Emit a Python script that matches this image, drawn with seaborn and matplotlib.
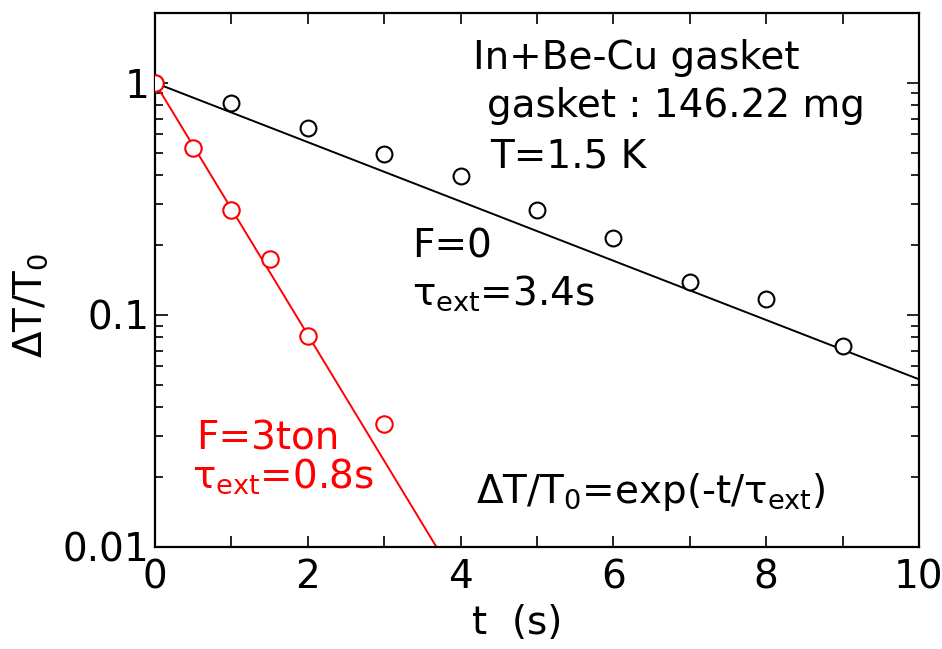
import numpy as np
import pandas as pd
import matplotlib
matplotlib.use("Agg")
import matplotlib.pyplot as plt
import seaborn as sns
from matplotlib.ticker import FixedLocator, FixedFormatter, MultipleLocator, LogLocator, NullFormatter

# Measured relaxation of the temperature step, normalised to T0
t_free = [0, 1, 2, 3, 4, 5, 6, 7, 8, 9]
dT_free = [1.0, 0.815, 0.637, 0.492, 0.398, 0.282, 0.214, 0.138, 0.117, 0.0736]

t_load = [0, 0.5, 1, 1.5, 2, 3]
dT_load = [1.0, 0.524, 0.282, 0.175, 0.0813, 0.034]

# Fitted external time constants (s)
tau_free = 3.4
tau_load = 0.8

y_ticks = [0.01, 0.1, 1]
y_tick_labels = ["0.01", "0.1", "1"]
x_ticks = [0, 2, 4, 6, 8, 10]

sns.set_style("ticks")
plt.rcParams["font.family"] = ["DejaVu Sans"]
plt.rcParams["mathtext.fontset"] = "custom"
plt.rcParams["mathtext.rm"] = "DejaVu Sans"
plt.rcParams["mathtext.it"] = "DejaVu Sans"
plt.rcParams["mathtext.bf"] = "DejaVu Sans"
plt.rcParams["text.color"] = "black"
plt.rcParams["axes.labelcolor"] = "black"

FS = 28
RED = "#ff0000"

fig = plt.figure(figsize=(9.42, 6.49), dpi=100)
ax = fig.add_axes([155 / 942, 1 - 547 / 649, 764 / 942, 534 / 649])

# Exponential fits  dT/T0 = exp(-t / tau)
t_fit = np.linspace(0, 10, 400)
fit_free = pd.DataFrame({"t": t_fit, "y": np.exp(-t_fit / tau_free)})
fit_load = pd.DataFrame({"t": t_fit, "y": np.exp(-t_fit / tau_load)})
fit_load = fit_load[fit_load["y"] >= 0.0099]

sns.lineplot(data=fit_free, x="t", y="y", ax=ax, color="black", lw=1.4, zorder=2)
sns.lineplot(data=fit_load, x="t", y="y", ax=ax, color=RED, lw=1.4, zorder=2)

free = pd.DataFrame({"t": t_free, "y": dT_free})
load = pd.DataFrame({"t": t_load, "y": dT_load})
sns.scatterplot(data=free, x="t", y="y", ax=ax, s=130, marker="o",
                facecolor="white", edgecolor="black", linewidth=1.5, zorder=3)
sns.scatterplot(data=load, x="t", y="y", ax=ax, s=140, marker="o",
                facecolor="white", edgecolor=RED, linewidth=1.5, zorder=4)

ax.set_yscale("log")
ax.set_xlim(0, 10)
ax.set_ylim(0.01, 2)

ax.xaxis.set_major_locator(FixedLocator(x_ticks))
ax.xaxis.set_minor_locator(MultipleLocator(1))
ax.yaxis.set_major_locator(FixedLocator(y_ticks))
ax.yaxis.set_major_formatter(FixedFormatter(y_tick_labels))
ax.yaxis.set_minor_locator(LogLocator(base=10, subs=np.arange(2, 10)))
ax.yaxis.set_minor_formatter(NullFormatter())

ax.tick_params(axis="both", which="both", direction="in", top=True, right=True,
               labelsize=FS, colors="black", width=1.2)
ax.tick_params(axis="x", which="both", length=8, pad=8)
ax.tick_params(axis="y", which="major", length=9, pad=4)
ax.tick_params(axis="y", which="minor", length=6)

for sp in ax.spines.values():
    sp.set_linewidth(1.6)
    sp.set_color("black")

ax.set_xlabel("t  (s)", fontsize=FS)
ax.set_ylabel(r"$\Delta$T/T$_0$", fontsize=FS)
ax.xaxis.set_label_coords((517 - 155) / 764, (547 - 604) / 534)
ax.yaxis.set_label_coords((50 - 155) / 764, (547 - 305) / 534)

tr = ax.transAxes


def put(px, py, s, size=FS, **kw):
    ax.text((px - 155) / 764, (547 - py) / 534, s, transform=tr, fontsize=size,
            va="baseline", ha="left", **kw)


put(473, 69, "In+Be-Cu gasket")
put(487, 117, "gasket : 146.22 mg")
put(490, 167, "T=1.5 K")
put(412, 257, "F=0")
put(412, 305, r"$\tau_{\mathrm{ext}}$=3.4s")
put(196, 449, "F=3ton", color=RED)
put(192, 488, r"$\tau_{\mathrm{ext}}$=0.8s", color=RED)
put(476, 503, r"$\Delta$T/T$_0$=exp(-t/$\tau_{\mathrm{ext}}$)")

fig.savefig("out.png", dpi=100)
